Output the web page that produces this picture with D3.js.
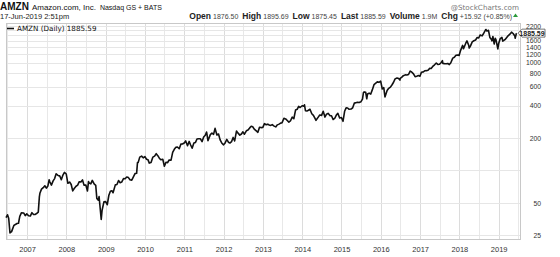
<!DOCTYPE html>
<html><head><meta charset="utf-8">
<script src="https://cdn.jsdelivr.net/npm/d3@7"></script>
<style>body{margin:0;background:#fff}svg{display:block}</style>
</head><body><div id="chart"></div>
<script>
const dates = ["2006-06-19","2006-07-03","2006-07-14","2006-07-26","2006-08-10","2006-08-31","2006-09-15","2006-09-29","2006-10-13","2006-10-25","2006-11-10","2006-11-30","2006-12-15","2006-12-29",
"2007-01-15","2007-01-31","2007-02-15","2007-02-28","2007-03-15","2007-03-30","2007-04-15","2007-04-25","2007-04-30","2007-05-15","2007-05-31","2007-06-15","2007-06-29","2007-07-13","2007-07-25","2007-07-31","2007-08-15","2007-08-31","2007-09-14","2007-09-28","2007-10-15","2007-10-24","2007-10-31","2007-11-15","2007-11-30","2007-12-14","2007-12-31",
"2008-01-15","2008-01-31","2008-02-15","2008-02-29","2008-03-14","2008-03-31","2008-04-15","2008-04-30","2008-05-15","2008-05-30","2008-06-13","2008-06-30","2008-07-15","2008-07-25","2008-07-31","2008-08-15","2008-08-29","2008-09-15","2008-09-30","2008-10-10","2008-10-24","2008-10-31","2008-11-20","2008-11-28","2008-12-15","2008-12-31",
"2009-01-15","2009-01-30","2009-02-13","2009-02-27","2009-03-10","2009-03-31","2009-04-15","2009-04-30","2009-05-15","2009-05-29","2009-06-15","2009-06-30","2009-07-15","2009-07-31","2009-08-14","2009-08-31","2009-09-15","2009-09-30","2009-10-15","2009-10-23","2009-10-30","2009-11-13","2009-11-30","2009-12-15","2009-12-31",
"2010-01-15","2010-01-29","2010-02-10","2010-02-26","2010-03-15","2010-03-31","2010-04-15","2010-04-30","2010-05-14","2010-05-28","2010-06-15","2010-06-30","2010-07-15","2010-07-30","2010-08-13","2010-08-31","2010-09-15","2010-09-30","2010-10-15","2010-10-29","2010-11-15","2010-11-30","2010-12-15","2010-12-31",
"2011-01-14","2011-01-31","2011-02-15","2011-02-28","2011-03-15","2011-03-31","2011-04-15","2011-04-29","2011-05-13","2011-05-31","2011-06-15","2011-06-30","2011-07-15","2011-07-27","2011-07-29","2011-08-09","2011-08-31","2011-09-15","2011-09-30","2011-10-14","2011-10-31","2011-11-15","2011-11-30","2011-12-15","2011-12-30",
"2012-01-13","2012-01-31","2012-02-15","2012-02-29","2012-03-15","2012-03-30","2012-04-13","2012-04-30","2012-05-15","2012-05-31","2012-06-15","2012-06-29","2012-07-13","2012-07-31","2012-08-15","2012-08-31","2012-09-14","2012-09-28","2012-10-12","2012-10-31","2012-11-15","2012-11-30","2012-12-14","2012-12-31",
"2013-01-15","2013-01-31","2013-02-15","2013-02-28","2013-03-15","2013-03-28","2013-04-15","2013-04-30","2013-05-15","2013-05-31","2013-06-14","2013-06-28","2013-07-15","2013-07-31","2013-08-15","2013-08-30","2013-09-13","2013-09-30","2013-10-15","2013-10-31","2013-11-15","2013-11-29","2013-12-13","2013-12-31",
"2014-01-15","2014-01-22","2014-01-31","2014-02-14","2014-02-28","2014-03-14","2014-03-31","2014-04-15","2014-04-30","2014-05-09","2014-05-30","2014-06-13","2014-06-30","2014-07-15","2014-07-31","2014-08-15","2014-08-29","2014-09-15","2014-09-30","2014-10-15","2014-10-31","2014-11-14","2014-11-28","2014-12-15","2014-12-31",
"2015-01-15","2015-01-30","2015-02-13","2015-02-27","2015-03-13","2015-03-31","2015-04-15","2015-04-30","2015-05-15","2015-05-29","2015-06-15","2015-06-30","2015-07-15","2015-07-24","2015-07-31","2015-08-14","2015-08-24","2015-08-31","2015-09-15","2015-09-30","2015-10-15","2015-10-30","2015-11-13","2015-11-30","2015-12-15","2015-12-31",
"2016-01-15","2016-01-29","2016-02-09","2016-02-29","2016-03-15","2016-03-31","2016-04-15","2016-04-29","2016-05-13","2016-05-31","2016-06-15","2016-06-27","2016-06-30","2016-07-15","2016-07-29","2016-08-15","2016-08-31","2016-09-15","2016-09-30","2016-10-14","2016-10-31","2016-11-15","2016-11-30","2016-12-15","2016-12-30",
"2017-01-13","2017-01-31","2017-02-15","2017-02-28","2017-03-15","2017-03-31","2017-04-13","2017-04-28","2017-05-15","2017-05-31","2017-06-09","2017-06-15","2017-06-30","2017-07-14","2017-07-27","2017-07-31","2017-08-15","2017-08-31","2017-09-15","2017-09-29","2017-10-13","2017-10-31","2017-11-15","2017-11-30","2017-12-15","2017-12-29",
"2018-01-12","2018-01-31","2018-02-08","2018-02-28","2018-03-12","2018-03-29","2018-04-02","2018-04-13","2018-04-30","2018-05-15","2018-05-31","2018-06-15","2018-06-29","2018-07-13","2018-07-31","2018-08-15","2018-08-31","2018-09-04","2018-09-14","2018-09-28","2018-10-11","2018-10-26","2018-10-31","2018-11-08","2018-11-20","2018-11-30","2018-12-07","2018-12-24","2018-12-31",
"2019-01-15","2019-01-31","2019-02-08","2019-02-28","2019-03-15","2019-03-29","2019-04-15","2019-04-30","2019-05-15","2019-05-31","2019-06-03","2019-06-14","2019-06-17"];
const closes = [36.5,38.7,36,26.3,27,30.8,31.5,32.1,32.3,37.5,40.5,40.3,38,39.5,
37.9,37.7,40.5,39.1,38.9,39.8,41,56.8,61.3,67,69.1,72,68.4,71.5,82,78.5,73,79.9,84,93.2,90,89,89.2,82,90.6,96,92.6,
76,78,74,64.5,68,71.3,73,78.6,78,81.6,73,73.3,64.5,79,76.3,75,80.8,75,72.8,55,53,57.2,35,42.7,51,51.3,
48,58.8,64,64.8,62,73.4,74,80.5,77,78,84,83.7,87,85.8,82,81.2,87,93.4,94,118.5,118.8,133,135.9,131,134.5,
127,125.4,117,118.4,133,135.8,143,137.1,130,125.5,127,109.3,119,117.9,125,124.8,147,157,164,165.2,159,175.4,176,180,
188,169.6,186,173.3,161,180.1,182,195.8,197,196.7,185,204.5,212,227,222.5,189,215,222,216.2,246,213.5,218,192.3,180,173.1,
178,194.4,183,179.7,185,202.5,188,231.9,222,212.9,218,228.4,217,233.3,237,248.3,257,254.3,242,232.9,226,252,250,250.9,
272,265.5,269,264.3,262,266.5,258,253.8,265,269.2,275,277.7,305,301.2,291,281,288,312.6,302,364,370,393.6,384,398.8,
396,407,358.7,357,362.1,370,336.4,325,304.1,292,312.6,327,324.8,355,313,333,339,323,322.4,297,305.5,327,338.6,307,310.4,
286,354.5,381,380.2,370,372.1,382,421.8,426,429.2,427,434.1,460,529,536.2,531,463,512.9,522,511.9,563,625.9,643,664.8,658,675.9,
571,587,482,552.5,579,593.6,625,659.6,709,722.8,715,691,715.6,735,758.8,772,769.2,778,837.3,822,789.8,744,750.6,760,749.9,
817,823.5,844,845,852,886.5,884,925,958,994.6,978,964,968,1001,1046,987.8,983,980.6,986,961.4,1002,1105.3,1126,1176.8,1179,1169.5,
1305,1450.9,1350,1512.5,1598,1447.3,1372,1430,1566,1601,1629.6,1715,1699.8,1813,1777.4,1882,2012.7,2039,1970,2003,1719,1642,1598,1755,1495,1690,1630,1344,1502,
1674,1718.7,1588,1639.8,1712,1780.8,1844,1926.5,1871,1775,1692,1869.7,1885.59];
const yearTicks = ["2007","2008","2009","2010","2011","2012","2013","2014","2015","2016","2017","2018","2019"];
const priceLabels = [25,50,200,400,600,800,1000,1200,1400,1600,2200];
const priceGrid = [25,50,100,200,400,600,800,1000,1200,1400,1600,1800,2000,2200];
const lastPrice = 1885.59;

const W=560,H=257;
const svg=d3.select("#chart").append("svg").attr("width",W).attr("height",H);
const parse=d3.timeParse("%Y-%m-%d");
const data=dates.map((d,i)=>({t:parse(d),v:closes[i]}));
const L=6,R=520,T=23,B=239;
const x=d3.scaleTime().domain([parse("2006-06-19"),parse("2019-07-18")]).range([L,R]);
const y=d3.scaleLog().domain([23.07,2342]).range([B,T]);

// grid
const g=svg.append("g");
const halfYears=[];
for(const yr of d3.range(2007,2020)){halfYears.push(new Date(yr,0,1));halfYears.push(new Date(yr,6,1));}
halfYears.unshift(new Date(2006,6,1));
g.selectAll(".vg").data(halfYears.filter(d=>x(d)>L&&x(d)<R)).join("line")
 .attr("x1",d=>Math.round(x(d))+0.5).attr("x2",d=>Math.round(x(d))+0.5).attr("y1",T).attr("y2",B)
 .attr("stroke",d=>d.getMonth()===0?"#dcdcdc":"#e8e8e8").attr("stroke-width",1);
g.selectAll(".hg").data(priceGrid).join("line")
 .attr("x1",L).attr("x2",R).attr("y1",d=>Math.round(y(d))+0.5).attr("y2",d=>Math.round(y(d))+0.5)
 .attr("stroke","#e6e6e6").attr("stroke-width",1);
svg.append("rect").attr("x",L+0.5).attr("y",T+0.5).attr("width",R-L).attr("height",B-T)
 .attr("fill","none").attr("stroke","#c8c8c8");

// axes labels
const xa=svg.append("g").attr("transform",`translate(0,${B})`)
 .call(d3.axisBottom(x).tickValues(yearTicks.map(s=>parse(s+"-01-01"))).tickFormat(d3.timeFormat("%Y")).tickSize(0).tickPadding(8));
xa.select(".domain").remove();
xa.selectAll("text").attr("font-family","Liberation Sans, Arial, sans-serif").attr("font-size",7.5).attr("fill","#333");
const ya=svg.append("g").attr("transform",`translate(541,0)`)
 .call(d3.axisLeft(y).tickValues(priceLabels).tickFormat(d3.format("d")).tickSize(0).tickPadding(0));
ya.select(".domain").remove();
ya.selectAll("text").attr("font-family","Liberation Sans, Arial, sans-serif").attr("font-size",6.8).attr("fill","#333");

// line
svg.append("path").datum(data).attr("fill","none").attr("stroke","#111").attr("stroke-width",1.6)
 .attr("stroke-linejoin","round").attr("d",d3.line().x(d=>x(d.t)).y(d=>y(d.v)));

// last price marker
const ly=y(lastPrice);
const mk=svg.append("g");
mk.append("path").attr("d",`M${R-2},${ly} L${R+2},${ly-4} L${545},${ly-4} L${545},${ly+4} L${R+2},${ly+4} Z`)
 .attr("fill","#fff").attr("stroke","#555").attr("stroke-width",0.8);
mk.append("text").attr("x",532).attr("y",ly).attr("dy","0.35em").attr("text-anchor","middle")
 .attr("font-family","Liberation Sans, Arial, sans-serif").attr("font-size",7).attr("font-weight","bold").attr("fill","#222").text(d3.format(".2f")(lastPrice));

// header
const ff="Liberation Sans, Arial, sans-serif";
const h1=svg.append("text").attr("x",0).attr("y",10).attr("font-family",ff).attr("fill","#111");
h1.append("tspan").attr("font-weight","bold").attr("font-size",10).text("AMZN");
h1.append("tspan").attr("font-size",8).attr("dx",3).text("Amazon.com, Inc.");
h1.append("tspan").attr("font-size",7).attr("dx",4).text("Nasdaq GS + BATS");
svg.append("text").attr("x",519).attr("y",10).attr("text-anchor","end").attr("font-family","DejaVu Sans, sans-serif")
 .attr("font-size",7.2).attr("fill","#777").text("@StockCharts.com");
svg.append("text").attr("x",0).attr("y",19).attr("font-family",ff).attr("font-size",7.5).attr("fill","#222").text("17-Jun-2019 2:51pm");
const h2=svg.append("text").attr("x",512).attr("y",19).attr("text-anchor","end").attr("font-family",ff).attr("fill","#222");
const items=[["Open","1876.50"],["High","1895.69"],["Low","1875.45"],["Last","1885.59"],["Volume","1.9M"],["Chg","+15.92 (+0.85%)"]];
items.forEach(([k,v],i)=>{
  h2.append("tspan").attr("font-weight","bold").attr("font-size",8.5).attr("dx",i?4:0).text(k);
  h2.append("tspan").attr("font-size",7).attr("dx",2).attr("fill","#444").text(v);
});
svg.append("path").attr("d","M513,17 L518,17 L515.5,13.5 Z").attr("fill","#2a9a3a");

// legend
svg.append("line").attr("x1",7).attr("x2",14).attr("y1",28.5).attr("y2",28.5).attr("stroke","#111").attr("stroke-width",1.6);
svg.append("text").attr("x",17).attr("y",31).attr("font-family","DejaVu Sans, sans-serif").attr("font-size",7.2).attr("fill","#111").text("AMZN (Daily) 1885.59");
</script></body></html>
